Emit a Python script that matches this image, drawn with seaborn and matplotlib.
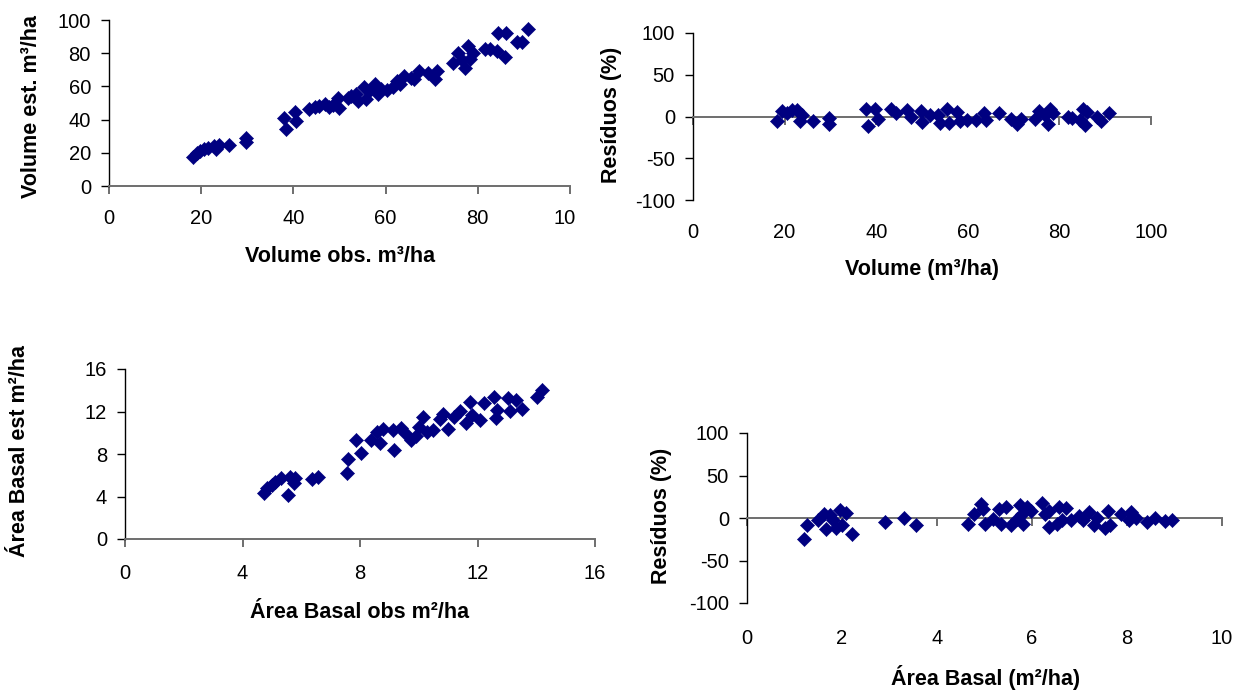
import numpy as np
import pandas as pd
import matplotlib
matplotlib.use("Agg")
import matplotlib.pyplot as plt
import seaborn as sns
from matplotlib.transforms import Bbox, TransformedBbox

# ---------------- data ----------------
vol_obs = [18.3, 19.0, 19.8, 20.7, 21.5, 22.8, 23.8, 23.2, 26.1, 29.7, 29.7,
           37.9, 38.3, 40.3, 40.6, 43.4, 44.6, 46.9, 47.8, 49.6, 49.8, 51.9,
           53.6, 54.0, 55.7, 55.3, 57.8, 58.4, 60.3, 61.5, 63.2, 64.0, 66.1,
           67.3, 69.3, 70.7, 71.1, 74.7, 75.7, 77.3, 77.8, 78.2, 79.0, 81.5,
           82.6, 84.1, 84.4, 86.1, 85.9, 88.6, 89.6, 90.9,
           52.5, 56.5, 59.0, 62.5, 65.5, 45.5, 48.5, 76.5]
vol_est = [17.7, 19.7, 21.1, 22.1, 23.1, 24.1, 24.7, 22.1, 24.7, 29.1, 26.5,
           41.2, 34.1, 44.6, 39.2, 46.6, 47.8, 49.6, 47.8, 53.2, 47.2, 53.2,
           55.2, 51.2, 52.6, 59.8, 61.2, 55.6, 57.8, 59.8, 61.6, 66.3, 64.3,
           69.3, 67.9, 64.7, 69.3, 74.3, 80.3, 71.3, 84.3, 76.7, 80.3, 82.3,
           82.3, 81.3, 92.4, 92.4, 77.9, 86.7, 86.7, 94.4,
           54.0, 57.5, 58.5, 63.0, 65.0, 48.0, 49.0, 76.0]

vol_res_x = [18.3, 19.4, 20.6, 21.7, 22.6, 23.3, 23.9, 26.1, 29.6, 29.6, 37.7,
             38.2, 39.8, 40.3, 43.3, 44.4, 46.7, 47.6, 49.7, 49.9, 51.7, 53.5,
             54.0, 55.4, 55.8, 57.6, 58.3, 59.9, 61.8, 63.6, 64.0, 66.8, 69.5,
             70.7, 71.6, 74.6, 75.5, 76.9, 77.6, 78.0, 78.7, 81.9, 82.8, 84.6,
             85.1, 85.5, 86.0, 88.3, 89.0, 90.8]
vol_res_y = [-5.2, 6.4, 3.6, 7.6, 7.6, -5.2, 1.6, -5.2, -1.2, -8.4, 8.4,
             -11.2, 8.4, -2.4, 8.4, 3.6, 7.6, -0.4, 6.4, -6.4, 1.6, 1.6,
             -7.6, 8.4, -7.6, 5.6, -5.2, -4.4, -4.4, 3.6, -4.4, 3.6, -2.4,
             -8.4, -2.4, -2.4, 6.4, 1.6, -8.4, 8.4, 3.6, -0.4, -1.2, -4.4,
             8.4, -10.4, 5.6, -0.4, -5.2, 3.6]

ab_obs = [4.72, 4.85, 4.99, 5.11, 5.31, 5.55, 5.62, 5.75, 5.80, 6.36, 6.56,
          7.57, 7.60, 7.87, 8.05, 8.38, 8.58, 8.67, 8.79, 9.12, 9.15, 9.39,
          9.53, 9.73, 9.89, 10.00, 10.16, 10.27, 10.50, 10.74, 10.81, 11.01,
          11.21, 11.42, 11.62, 11.75, 11.82, 12.09, 12.22, 12.56, 12.62, 12.67,
          13.03, 13.10, 13.30, 13.53, 14.02, 14.20]
ab_est = [4.36, 4.76, 5.08, 5.39, 5.77, 4.14, 5.86, 5.30, 5.71, 5.61, 5.86,
          6.24, 7.49, 9.31, 8.06, 9.31, 10.09, 9.00, 10.31, 10.25, 8.37, 10.41,
          9.94, 9.31, 9.69, 10.56, 11.50, 10.09, 10.25, 11.25, 11.80, 10.31,
          11.44, 12.04, 10.88, 12.92, 11.66, 11.19, 12.82, 13.39, 11.41, 12.13,
          13.23, 12.07, 13.07, 12.19, 13.39, 14.01]

ab_res_x = [1.20, 1.27, 1.49, 1.62, 1.66, 1.75, 1.81, 1.88, 1.96, 2.00, 2.09,
            2.21, 2.91, 3.31, 3.56, 4.66, 4.77, 4.93, 4.96, 5.00, 5.17, 5.30,
            5.34, 5.45, 5.55, 5.68, 5.74, 5.78, 5.80, 5.89, 5.97, 6.21, 6.27,
            6.35, 6.35, 6.52, 6.56, 6.63, 6.71, 6.82, 6.99, 7.07, 7.20, 7.30,
            7.36, 7.53, 7.59, 7.64, 7.87, 8.04, 8.08, 8.19, 8.42, 8.59, 8.80,
            8.94]
ab_res_y = [-24.9, -8.4, -1.9, 5.0, -13.0, 3.1, -2.7, -12.2, 9.6, -8.4, 5.7,
            -18.7, -4.6, 0.0, -8.4, -6.5, 5.0, 16.4, 10.7, -7.6, -0.8, 10.7,
            -6.5, 13.4, -8.4, -0.8, 15.3, 5.0, -6.5, 12.6, 8.8, 17.2, 5.0,
            8.8, -10.3, -6.5, 12.6, -2.7, 11.9, -2.7, 1.9, -2.7, 6.9, -8.4,
            0.0, -12.2, 8.8, -8.4, 5.0, -2.7, 6.9, 0.4, -4.6, 0.4, -3.8,
            -1.9]

x_ticks_vol = [0, 20, 40, 60, 80, 100]
y_ticks_vol = [0, 20, 40, 60, 80, 100]
res_ticks = [-100, -50, 0, 50, 100]
ab_ticks = [0, 4, 8, 12, 16]
ab_res_xticks = [0, 2, 4, 6, 8, 10]

# ---------------- style ----------------
sns.set_style("white")
plt.rcParams["font.family"] = ["Liberation Sans", "DejaVu Sans"]
plt.rcParams["axes.unicode_minus"] = False
plt.rcParams["text.color"] = "black"
plt.rcParams["axes.labelcolor"] = "black"
plt.rcParams["xtick.color"] = "black"
plt.rcParams["ytick.color"] = "black"

W, H = 1255, 692
fig = plt.figure(figsize=(W / 100, H / 100), dpi=100)

def add_ax(x0, y0, x1, y1):
    return fig.add_axes([x0 / W, 1 - y1 / H, (x1 - x0) / W, (y1 - y0) / H])

ax1 = add_ax(109, 20, 570, 186)
ax2 = add_ax(693, 33, 1151, 200)
ax3 = add_ax(125, 369, 595, 539)
ax4 = add_ax(747, 433, 1222, 603)

NAVY = "#000080"
AXGRAY = "#6e6e6e"
TICK_FS = 14.5
LAB_FS = 15.5

def scatter(ax, x, y):
    df = pd.DataFrame({"x": x, "y": y})
    sns.scatterplot(data=df, x="x", y="y", ax=ax, marker="D", s=52,
                    color=NAVY, edgecolor=NAVY, linewidth=0.4, clip_on=False,
                    zorder=5)

def style(ax, xt, yt, xlab, ylab, xpad, xlabpos, ylabpos, zero=False):
    ax.set_xlim(xt[0], xt[-1])
    ax.set_ylim(yt[0], yt[-1])
    ax.set_xticks(xt)
    ax.set_yticks(yt)
    for s in ["top", "right"]:
        ax.spines[s].set_visible(False)
    ax.spines["left"].set_color("black")
    ax.spines["left"].set_linewidth(1.0)
    ax.spines["bottom"].set_color(AXGRAY)
    ax.spines["bottom"].set_linewidth(1.4)
    if zero:
        ax.spines["bottom"].set_position(("data", 0))
    ax.tick_params(axis="y", direction="out", length=6, width=1.0,
                   color="black", labelcolor="black", pad=7,
                   labelsize=TICK_FS, left=True)
    ax.tick_params(axis="x", direction="out", length=6, width=1.4,
                   color=AXGRAY, labelcolor="black", pad=xpad,
                   labelsize=TICK_FS, bottom=True)
    ax.set_xlabel(xlab, fontsize=LAB_FS, fontweight="bold", color="black")
    ax.set_ylabel(ylab, fontsize=LAB_FS, fontweight="bold", color="black")
    ax.xaxis.set_label_coords(xlabpos[0] / W, 1 - xlabpos[1] / H,
                              transform=fig.transFigure)
    ax.yaxis.set_label_coords(ylabpos[0] / W, 1 - ylabpos[1] / H,
                              transform=fig.transFigure)
    ax.xaxis.label.set_va("center")
    ax.yaxis.label.set_va("center")
    ax.yaxis.label.set_ha("center")
    ax.grid(False)
    ax.set_facecolor("white")

scatter(ax1, vol_obs, vol_est)
scatter(ax2, vol_res_x, vol_res_y)
scatter(ax3, ab_obs, ab_est)
scatter(ax4, ab_res_x, ab_res_y)

style(ax1, x_ticks_vol, y_ticks_vol, "Volume obs. m³/ha", "Volume est. m³/ha",
      10.5, (340, 257), (32, 106))
style(ax2, x_ticks_vol, res_ticks, "Volume (m³/ha)", "Resíduos (%)",
      71, (922, 270), (612, 115), zero=True)
style(ax3, ab_ticks, ab_ticks, "Área Basal obs m²/ha", "Área Basal est m²/ha",
      12, (360, 613), (20, 451))
style(ax4, ab_res_xticks, res_ticks, "Área Basal (m²/ha)", "Resíduos (%)",
      74, (986, 678), (661, 516), zero=True)

# the last x tick label of the first chart is cut off at the chart border
clip = TransformedBbox(Bbox([[0, 0], [576 / W, 1]]), fig.transFigure)
for lbl in ax1.get_xticklabels():
    lbl.set_clip_box(clip)
    lbl.set_clip_on(True)

fig.savefig("out.png", dpi=100, facecolor="white")
